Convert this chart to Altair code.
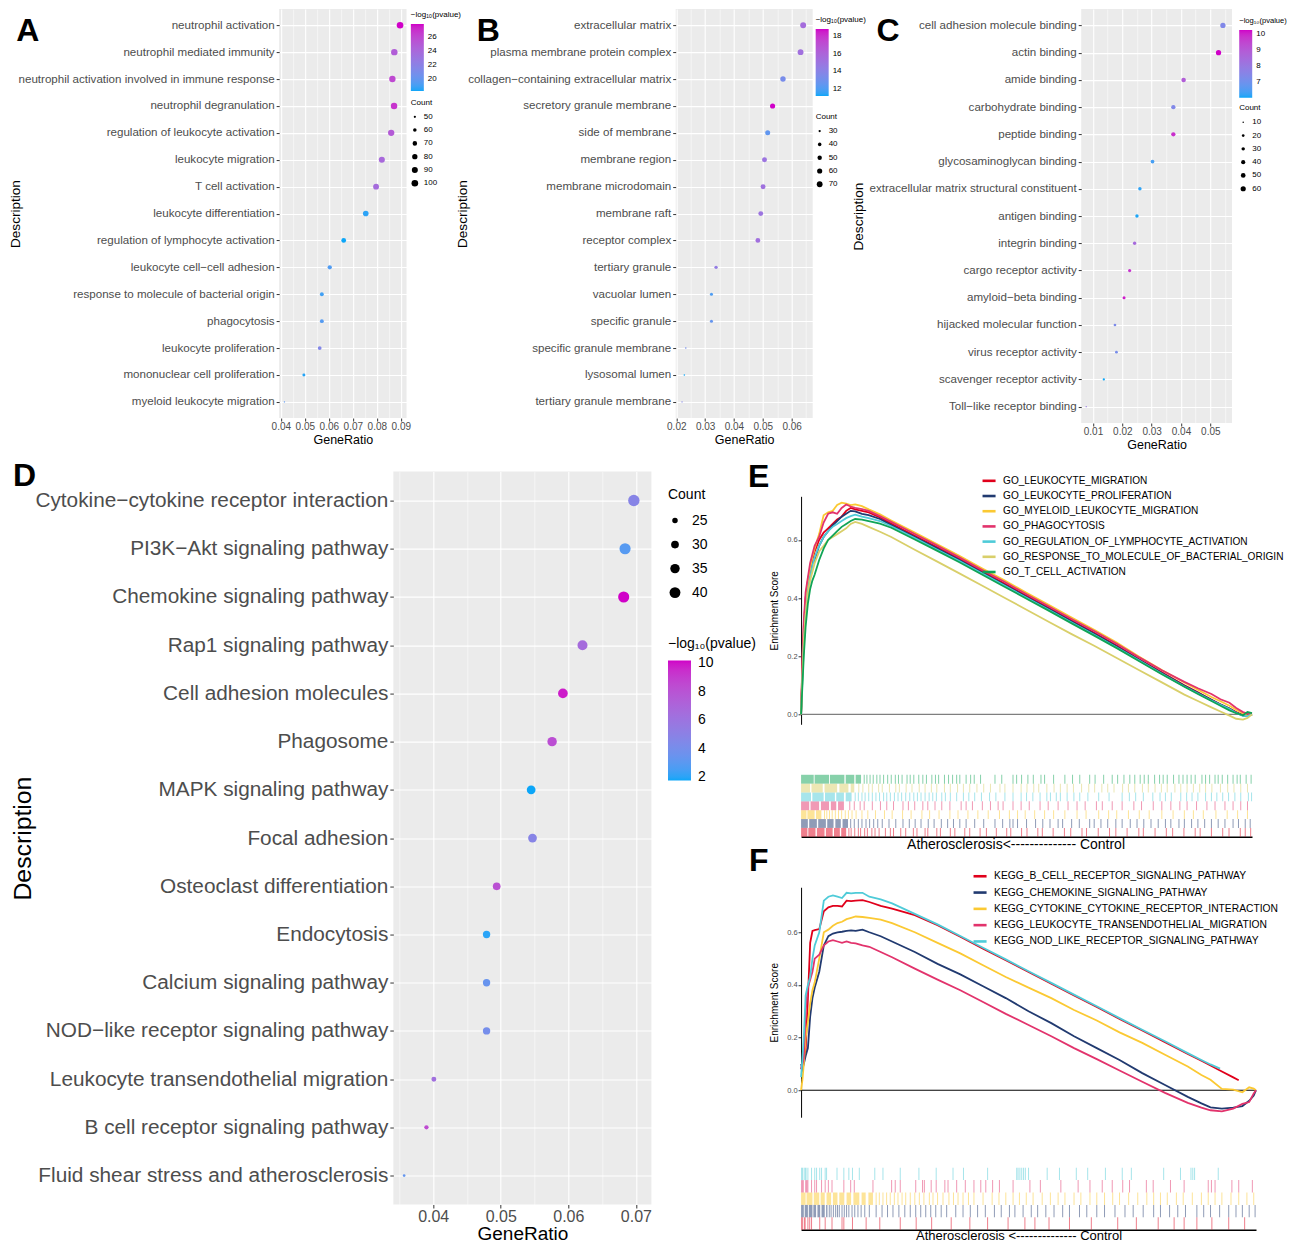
import altair as alt
import pandas as pd

FONT = "Liberation Sans"
LOW, HIGH = "#0CA6F8", "#D000C8"
PANEL = "#EBEBEB"
GREY = "#4D4D4D"
LOGP = "\u2212log\u2081\u2080(pvalue)"

# ---------------- Panel A (GO BP) ----------------
a_terms = ["neutrophil activation", "neutrophil mediated immunity",
           "neutrophil activation involved in immune response", "neutrophil degranulation",
           "regulation of leukocyte activation", "leukocyte migration", "T cell activation",
           "leukocyte differentiation", "regulation of lymphocyte activation",
           "leukocyte cell\u2212cell adhesion", "response to molecule of bacterial origin",
           "phagocytosis", "leukocyte proliferation", "mononuclear cell proliferation",
           "myeloid leukocyte migration"]
a_ratio = [0.0897, 0.0873, 0.0865, 0.0872, 0.0860, 0.0821, 0.0797, 0.0754, 0.0662, 0.0604,
           0.0571, 0.0571, 0.0562, 0.0496, 0.0415]
a_count = [100, 97, 96, 97, 95, 91, 88, 84, 73, 67, 63, 63, 62, 55, 46]
a_logp = [27.9, 24.8, 26.0, 26.9, 25.0, 24.0, 23.8, 18.6, 18.3, 19.4, 19.0, 19.5, 21.5, 18.5, 19.8]
a_xticks = [0.04, 0.05, 0.06, 0.07, 0.08, 0.09]
a_xminor = [0.045, 0.055, 0.065, 0.075, 0.085]
a_cticks = [20, 22, 24, 26]
a_sticks = [50, 60, 70, 80, 90, 100]

# ---------------- Panel B (GO CC) ----------------
b_terms = ["extracellular matrix", "plasma membrane protein complex",
           "collagen\u2212containing extracellular matrix", "secretory granule membrane",
           "side of membrane", "membrane region", "membrane microdomain", "membrane raft",
           "receptor complex", "tertiary granule", "vacuolar lumen", "specific granule",
           "specific granule membrane", "lysosomal lumen", "tertiary granule membrane"]
b_ratio = [0.0640, 0.0631, 0.0570, 0.0534, 0.0517, 0.0506, 0.0501, 0.0493, 0.0483, 0.0338,
           0.0322, 0.0322, 0.0233, 0.0228, 0.0220]
b_count = [72, 71, 64, 60, 58, 57, 57, 56, 55, 38, 36, 36, 26, 26, 25]
b_logp = [15.5, 15.3, 13.3, 18.8, 12.5, 15.0, 15.2, 15.0, 15.3, 14.5, 12.0, 12.6, 13.2, 11.2, 13.8]
b_xticks = [0.02, 0.03, 0.04, 0.05, 0.06]
b_xminor = [0.025, 0.035, 0.045, 0.055, 0.065]
b_cticks = [12, 14, 16, 18]
b_sticks = [30, 40, 50, 60, 70]

# ---------------- Panel C (GO MF) ----------------
c_terms = ["cell adhesion molecule binding", "actin binding", "amide binding",
           "carbohydrate binding", "peptide binding", "glycosaminoglycan binding",
           "extracellular matrix structural constituent", "antigen binding", "integrin binding",
           "cargo receptor activity", "amyloid\u2212beta binding", "hijacked molecular function",
           "virus receptor activity", "scavenger receptor activity", "Toll\u2212like receptor binding"]
c_ratio = [0.0543, 0.0528, 0.0409, 0.0374, 0.0374, 0.0303, 0.0260, 0.0250, 0.0242, 0.0225,
           0.0206, 0.0175, 0.0180, 0.0137, 0.0077]
c_count = [62, 61, 47, 43, 43, 35, 30, 29, 28, 26, 24, 20, 21, 16, 9]
c_logp = [7.4, 10.25, 8.9, 7.4, 9.9, 6.4, 6.2, 6.1, 8.5, 9.8, 10.1, 7.3, 7.2, 6.05, 8.0]
c_xticks = [0.01, 0.02, 0.03, 0.04, 0.05]
c_xminor = [0.015, 0.025, 0.035, 0.045, 0.055]
c_cticks = [7, 8, 9, 10]
c_sticks = [10, 20, 30, 40, 50, 60]

# ---------------- Panel D (KEGG) ----------------
d_terms = ["Cytokine\u2212cytokine receptor interaction", "PI3K\u2212Akt signaling pathway",
           "Chemokine signaling pathway", "Rap1 signaling pathway", "Cell adhesion molecules",
           "Phagosome", "MAPK signaling pathway", "Focal adhesion", "Osteoclast differentiation",
           "Endocytosis", "Calcium signaling pathway", "NOD\u2212like receptor signaling pathway",
           "Leukocyte transendothelial migration", "B cell receptor signaling pathway",
           "Fluid shear stress and atherosclerosis"]
d_ratio = [0.0697, 0.0684, 0.0682, 0.0621, 0.0592, 0.0576, 0.0545, 0.0547, 0.0494, 0.0479,
           0.0479, 0.0479, 0.0401, 0.0390, 0.0357]
d_count = [42, 41, 41, 37, 36, 35, 33, 33, 30, 29, 29, 29, 24, 23, 21]
d_logp = [4.8, 2.9, 10.2, 6.6, 9.9, 8.3, 1.76, 4.8, 8.2, 2.0, 3.4, 4.0, 6.3, 8.5, 3.3]
d_xticks = [0.04, 0.05, 0.06, 0.07]
d_xminor = [0.035, 0.045, 0.055, 0.065]
d_cticks = [2, 4, 6, 8, 10]
d_sticks = [25, 30, 35, 40]

# ---------------- Panel E (GSEA GO) ----------------
e_sets = ["GO_LEUKOCYTE_MIGRATION", "GO_LEUKOCYTE_PROLIFERATION", "GO_MYELOID_LEUKOCYTE_MIGRATION",
          "GO_PHAGOCYTOSIS", "GO_REGULATION_OF_LYMPHOCYTE_ACTIVATION",
          "GO_RESPONSE_TO_MOLECULE_OF_BACTERIAL_ORIGIN", "GO_T_CELL_ACTIVATION"]
e_colors = ["#E0001B", "#213A70", "#FBC933", "#E2336C", "#4FCBD8", "#D9CF6A", "#10A456"]
e_rank = [0, 3, 6, 10, 15, 20, 25, 30, 40, 50, 60, 70, 80, 90, 100, 110, 120, 135, 150, 175, 200,
          250, 300, 350, 400, 450, 500, 550, 600, 650, 700, 750, 800, 850, 880, 910, 930, 950, 965,
          980, 990, 1000]
e_es_migration = [0.0, 0.18, 0.30, 0.40, 0.46, 0.50, 0.53, 0.56, 0.60, 0.625, 0.64, 0.655, 0.67,
                  0.68, 0.70, 0.71, 0.705, 0.70, 0.695, 0.677, 0.656, 0.616, 0.576, 0.536, 0.493,
                  0.451, 0.408, 0.366, 0.323, 0.281, 0.237, 0.19, 0.145, 0.1, 0.076, 0.05, 0.035,
                  0.02, 0.008, -0.002, -0.004, 0.0]
e_es_prolif = [0.0, 0.15, 0.27, 0.36, 0.43, 0.48, 0.52, 0.53, 0.58, 0.61, 0.63, 0.65, 0.665, 0.68,
               0.69, 0.70, 0.698, 0.69, 0.685, 0.672, 0.651, 0.612, 0.572, 0.532, 0.489, 0.447,
               0.404, 0.362, 0.319, 0.277, 0.233, 0.187, 0.142, 0.098, 0.074, 0.05, 0.034, 0.02,
               0.006, -0.004, -0.006, 0.0]
e_es_myeloid = [0.0, 0.15, 0.28, 0.38, 0.45, 0.50, 0.54, 0.57, 0.62, 0.685, 0.695, 0.70, 0.72,
                0.728, 0.725, 0.72, 0.722, 0.716, 0.705, 0.688, 0.667, 0.627, 0.587, 0.546, 0.503,
                0.462, 0.418, 0.376, 0.333, 0.291, 0.247, 0.198, 0.153, 0.11, 0.085, 0.06, 0.045,
                0.03, 0.016, 0.004, -0.006, 0.0]
e_es_phago = [0.0, 0.2, 0.32, 0.42, 0.47, 0.52, 0.55, 0.58, 0.61, 0.66, 0.69, 0.695, 0.69, 0.71,
              0.722, 0.715, 0.71, 0.706, 0.70, 0.682, 0.662, 0.622, 0.582, 0.541, 0.498, 0.457,
              0.413, 0.371, 0.328, 0.287, 0.243, 0.196, 0.152, 0.112, 0.09, 0.07, 0.052, 0.04,
              0.022, 0.008, 0.003, 0.0]
e_es_reglym = [0.0, 0.12, 0.24, 0.34, 0.42, 0.47, 0.51, 0.54, 0.58, 0.61, 0.63, 0.645, 0.655,
               0.665, 0.675, 0.682, 0.687, 0.68, 0.675, 0.665, 0.647, 0.608, 0.568, 0.528, 0.486,
               0.444, 0.401, 0.359, 0.316, 0.274, 0.23, 0.185, 0.14, 0.096, 0.072, 0.048, 0.033,
               0.018, 0.005, -0.005, -0.006, 0.0]
e_es_bacterial = [0.0, 0.13, 0.25, 0.34, 0.41, 0.46, 0.49, 0.52, 0.56, 0.58, 0.60, 0.61, 0.62,
                  0.63, 0.64, 0.655, 0.662, 0.655, 0.645, 0.628, 0.61, 0.568, 0.527, 0.486, 0.444,
                  0.402, 0.36, 0.318, 0.276, 0.236, 0.194, 0.152, 0.11, 0.068, 0.046, 0.024, 0.01,
                  -0.004, -0.015, -0.018, -0.012, 0.0]
e_es_tcell = [0.0, 0.10, 0.20, 0.30, 0.38, 0.43, 0.46, 0.48, 0.53, 0.57, 0.60, 0.615, 0.63, 0.645,
              0.655, 0.665, 0.672, 0.67, 0.665, 0.656, 0.642, 0.603, 0.564, 0.524, 0.482, 0.44,
              0.398, 0.356, 0.313, 0.271, 0.228, 0.183, 0.138, 0.095, 0.07, 0.046, 0.03, 0.014,
              0.004, -0.003, 0.008, 0.004]
e_rug_starts = {
    "GO_LEUKOCYTE_MIGRATION": [0, 16, 35, 55, 73, 89],
    "GO_LEUKOCYTE_PROLIFERATION": [0, 18, 38, 58, 76, 92],
    "GO_MYELOID_LEUKOCYTE_MIGRATION": [0, 14, 33],
    "GO_PHAGOCYTOSIS": [0, 21, 44, 66, 82],
    "GO_REGULATION_OF_LYMPHOCYTE_ACTIVATION": [0, 25, 53, 78, 99],
    "GO_RESPONSE_TO_MOLECULE_OF_BACTERIAL_ORIGIN": [0, 23, 52, 85, 110],
    "GO_T_CELL_ACTIVATION": [0, 30, 64, 99, 121],
}
e_rug_ends = {
    "GO_LEUKOCYTE_MIGRATION": [14, 32, 52, 70, 86, 100],
    "GO_LEUKOCYTE_PROLIFERATION": [15, 35, 55, 72, 88, 104],
    "GO_MYELOID_LEUKOCYTE_MIGRATION": [12, 30, 45],
    "GO_PHAGOCYTOSIS": [18, 40, 62, 78, 95],
    "GO_REGULATION_OF_LYMPHOCYTE_ACTIVATION": [22, 50, 75, 95, 112],
    "GO_RESPONSE_TO_MOLECULE_OF_BACTERIAL_ORIGIN": [20, 48, 80, 105, 118],
    "GO_T_CELL_ACTIVATION": [28, 62, 96, 118, 133],
}
e_rug_hits = {
    "GO_LEUKOCYTE_MIGRATION": [106, 111, 119, 127, 132, 141, 147, 157, 164, 173, 187, 198, 205, 221,
                               232, 249, 257, 275, 281, 301, 309, 331, 341, 363, 374, 397, 411, 433,
                               456, 465, 489, 501, 525, 535, 559, 584, 598, 623, 633, 659, 684, 698,
                               723, 749, 759, 785, 810, 824, 849, 874, 885, 910, 935, 949, 974, 985,
                               997],
    "GO_LEUKOCYTE_PROLIFERATION": [110, 118, 127, 135, 144, 152, 161, 170, 180, 195, 210, 226, 240,
                                   253, 266, 282, 295, 311, 325, 338, 352, 366, 385, 405, 430, 447,
                                   463, 470, 480, 500, 520, 536, 552, 570, 580, 600, 617, 640, 650,
                                   665, 680, 698, 712, 730, 745, 760, 776, 792, 808, 820, 838, 850,
                                   866, 880, 895, 910, 925, 940, 958, 970, 985, 996],
    "GO_MYELOID_LEUKOCYTE_MIGRATION": [52, 57, 63, 69, 76, 83, 90, 98, 105, 113, 122, 135, 148, 165,
                                       185, 202, 225, 244, 268, 285, 306, 330, 348, 370, 392, 415,
                                       440, 462, 480, 497, 518, 540, 560, 585, 612, 632, 660, 682,
                                       700, 726, 750, 772, 800, 825, 850, 870, 892, 920, 945, 968,
                                       990],
    "GO_PHAGOCYTOSIS": [108, 118, 131, 140, 158, 176, 190, 205, 226, 238, 252, 270, 281, 297, 312,
                        330, 355, 366, 380, 402, 420, 437, 448, 470, 488, 506, 530, 548, 570, 592,
                        612, 630, 655, 668, 690, 712, 738, 755, 781, 800, 820, 840, 856, 877, 900,
                        918, 940, 958, 975, 990],
    "GO_REGULATION_OF_LYMPHOCYTE_ACTIVATION": [120, 127, 135, 142, 150, 158, 166, 174, 183, 190, 198,
                                               207, 215, 223, 232, 241, 250, 258, 266, 275, 284, 292,
                                               300, 312, 320, 331, 345, 360, 372, 385, 400, 418, 432,
                                               452, 470, 488, 500, 514, 530, 545, 553, 566, 575, 590,
                                               605, 618, 636, 660, 683, 712, 728, 742, 759, 780, 796,
                                               808, 821, 842, 855, 867, 880, 897, 910, 922, 935, 948,
                                               962, 975, 992, 999],
    "GO_RESPONSE_TO_MOLECULE_OF_BACTERIAL_ORIGIN": [128, 137, 150, 158, 172, 180, 196, 210, 218, 233,
                                                    246, 262, 275, 289, 301, 318, 331, 347, 360, 374,
                                                    390, 405, 420, 441, 452, 470, 488, 501, 516, 527,
                                                    545, 561, 575, 590, 604, 622, 638, 651, 667, 680,
                                                    694, 713, 726, 740, 757, 770, 785, 799, 812, 829,
                                                    842, 856, 870, 884, 897, 911, 930, 946, 960, 975,
                                                    990],
    "GO_T_CELL_ACTIVATION": [140, 146, 153, 160, 168, 175, 183, 192, 200, 209, 216, 224, 235, 242,
                             250, 261, 270, 278, 290, 298, 305, 318, 327, 336, 345, 352, 366, 376,
                             384, 398, 430, 445, 470, 478, 489, 503, 515, 532, 540, 560, 585, 602,
                             618, 640, 652, 671, 690, 702, 716, 729, 740, 752, 761, 770, 784, 795,
                             803, 812, 826, 838, 847, 856, 865, 874, 889, 897, 906, 918, 925, 934,
                             946, 958, 967, 974, 987, 998],
}

# ---------------- Panel F (GSEA KEGG) ----------------
f_sets = ["KEGG_B_CELL_RECEPTOR_SIGNALING_PATHWAY", "KEGG_CHEMOKINE_SIGNALING_PATHWAY",
          "KEGG_CYTOKINE_CYTOKINE_RECEPTOR_INTERACTION", "KEGG_LEUKOCYTE_TRANSENDOTHELIAL_MIGRATION",
          "KEGG_NOD_LIKE_RECEPTOR_SIGNALING_PATHWAY"]
f_colors = ["#E0001B", "#213A70", "#FBC933", "#E2336C", "#4FCBD8"]
f_rank = [0, 3, 6, 10, 15, 20, 25, 30, 40, 50, 60, 70, 80, 90, 100, 110, 120, 135, 150, 175, 200,
          250, 300, 350, 400, 450, 500, 550, 600, 650, 700, 750, 800, 850, 880, 900, 925, 950, 970,
          985, 995, 1000]
f_rank_bcell = [0, 3, 6, 10, 15, 20, 25, 30, 40, 50, 60, 70, 80, 90, 100, 110, 120, 135, 150, 175,
                200, 250, 300, 350, 400, 450, 500, 550, 600, 650, 700, 750, 800, 850, 880, 900, 925,
                950, 962]
f_es_bcell = [0.08, 0.10, 0.12, 0.15, 0.35, 0.56, 0.605, 0.608, 0.612, 0.68, 0.695, 0.70, 0.70,
              0.698, 0.72, 0.718, 0.72, 0.722, 0.715, 0.70, 0.69, 0.665, 0.627, 0.583, 0.538, 0.494,
              0.449, 0.405, 0.36, 0.316, 0.271, 0.227, 0.182, 0.138, 0.112, 0.094, 0.071, 0.049,
              0.038]
f_es_chemokine = [0.1, 0.08, 0.1, 0.13, 0.16, 0.28, 0.35, 0.39, 0.45, 0.55, 0.585, 0.595, 0.60,
                  0.602, 0.605, 0.607, 0.605, 0.61, 0.60, 0.585, 0.565, 0.525, 0.48, 0.44, 0.395,
                  0.35, 0.30, 0.255, 0.205, 0.16, 0.115, 0.065, 0.02, -0.025, -0.05, -0.065, -0.07,
                  -0.066, -0.06, -0.04, -0.02, 0.0]
f_es_cytokine = [0.0, 0.04, 0.10, 0.20, 0.26, 0.33, 0.38, 0.41, 0.50, 0.60, 0.61, 0.625, 0.635,
                 0.64, 0.65, 0.655, 0.66, 0.658, 0.655, 0.648, 0.635, 0.60, 0.56, 0.52, 0.475, 0.43,
                 0.39, 0.35, 0.305, 0.265, 0.22, 0.18, 0.135, 0.09, 0.058, 0.04, 0.005, 0.002,
                 -0.008, 0.011, 0.006, 0.0]
f_es_leuko = [0.08, 0.10, 0.12, 0.30, 0.39, 0.42, 0.45, 0.50, 0.515, 0.55, 0.565, 0.57, 0.565,
              0.56, 0.565, 0.56, 0.558, 0.55, 0.545, 0.525, 0.505, 0.462, 0.42, 0.38, 0.335, 0.29,
              0.248, 0.205, 0.16, 0.118, 0.075, 0.032, -0.01, -0.048, -0.066, -0.076, -0.08, -0.07,
              -0.052, -0.045, -0.012, 0.0]
f_rank_nod = [0, 3, 6, 10, 15, 20, 25, 30, 40, 50, 60, 70, 80, 90, 100, 110, 120, 135, 150, 175,
              200, 250, 300, 350, 400, 450, 500, 550, 600, 650, 700, 750, 800, 850, 880, 900, 921]
f_es_nod = [0.05, 0.12, 0.2, 0.36, 0.40, 0.43, 0.50, 0.55, 0.60, 0.72, 0.735, 0.74, 0.735, 0.73,
            0.75, 0.748, 0.75, 0.75, 0.735, 0.725, 0.71, 0.67, 0.63, 0.586, 0.541, 0.497, 0.452,
            0.408, 0.363, 0.319, 0.274, 0.23, 0.186, 0.141, 0.115, 0.098, 0.082]
f_rug_starts = {
    "KEGG_B_CELL_RECEPTOR_SIGNALING_PATHWAY": [0, 6],
    "KEGG_CHEMOKINE_SIGNALING_PATHWAY": [0, 8, 17, 27, 36, 45, 55],
    "KEGG_CYTOKINE_CYTOKINE_RECEPTOR_INTERACTION": [0, 12, 28, 43, 56, 70, 84, 100, 115, 133, 148],
    "KEGG_LEUKOCYTE_TRANSENDOTHELIAL_MIGRATION": [0, 9],
    "KEGG_NOD_LIKE_RECEPTOR_SIGNALING_PATHWAY": [0, 7],
}
f_rug_ends = {
    "KEGG_B_CELL_RECEPTOR_SIGNALING_PATHWAY": [4, 10],
    "KEGG_CHEMOKINE_SIGNALING_PATHWAY": [6, 15, 25, 33, 42, 52, 58],
    "KEGG_CYTOKINE_CYTOKINE_RECEPTOR_INTERACTION": [10, 25, 40, 52, 66, 80, 95, 110, 128, 142, 158],
    "KEGG_LEUKOCYTE_TRANSENDOTHELIAL_MIGRATION": [6, 14],
    "KEGG_NOD_LIKE_RECEPTOR_SIGNALING_PATHWAY": [5, 12],
}
f_rug_hits = {
    "KEGG_B_CELL_RECEPTOR_SIGNALING_PATHWAY": [15, 19, 23, 41, 53, 68, 90, 94, 113, 143, 173, 218,
                                               253, 287, 330, 371, 410, 455, 492, 514, 545, 590,
                                               638, 696, 737, 785, 820, 842, 870, 903, 940, 975],
    "KEGG_CHEMOKINE_SIGNALING_PATHWAY": [62, 66, 71, 76, 80, 84, 90, 95, 100, 105, 112, 118, 125,
                                         132, 140, 150, 165, 178, 190, 202, 215, 228, 240, 252, 263,
                                         274, 285, 296, 308, 320, 340, 356, 372, 388, 405, 425, 440,
                                         458, 470, 488, 506, 520, 538, 556, 575, 590, 612, 628, 650,
                                         667, 690, 712, 730, 752, 775, 790, 810, 828, 845, 870, 885,
                                         900, 920, 940, 956, 970, 985, 998],
    "KEGG_CYTOKINE_CYTOKINE_RECEPTOR_INTERACTION": [165, 172, 180, 188, 196, 205, 213, 222, 230, 240,
                                                    250, 260, 270, 282, 290, 300, 312, 325, 335,
                                                    345, 356, 368, 380, 400, 420, 435, 450, 466,
                                                    480, 495, 510, 530, 548, 565, 580, 600, 615,
                                                    635, 650, 667, 685, 700, 720, 740, 760, 775,
                                                    790, 805, 825, 840, 860, 880, 895, 910, 925,
                                                    945, 962, 980, 995],
    "KEGG_LEUKOCYTE_TRANSENDOTHELIAL_MIGRATION": [15, 23, 30, 34, 45, 53, 60, 68, 94, 109, 117, 158,
                                                  199, 207, 218, 252, 267, 271, 286, 297, 316, 323,
                                                  342, 361, 380, 395, 406, 421, 436, 466, 503, 526,
                                                  571, 609, 635, 662, 684, 707, 722, 759, 774, 812,
                                                  842, 895, 902, 910, 947, 962, 992],
    "KEGG_NOD_LIKE_RECEPTOR_SIGNALING_PATHWAY": [15, 23, 30, 34, 41, 45, 53, 56, 79, 94, 105, 113,
                                                 128, 162, 180, 218, 259, 297, 334, 357, 410, 474,
                                                 477, 481, 485, 489, 493, 500, 541, 568, 605, 630,
                                                 669, 706, 726, 797, 834, 857, 861, 865, 917],
}


def letter(ch, x, y):
    return alt.Chart(pd.DataFrame({"t": [ch]})).mark_text(
        font=FONT, fontSize=32, fontWeight="bold", align="left", baseline="top", color="black"
    ).encode(text="t:N", x=alt.value(x), y=alt.value(y))


def spacer():
    # invisible 1x1 layout anchor used only to offset concatenated blocks
    return alt.Chart(pd.DataFrame({"v": [0]})).mark_rule(opacity=0).encode(
        x=alt.value(0), x2=alt.value(1), y=alt.value(0), y2=alt.value(0)
    ).properties(width=1, height=1)


def dot_panel(terms, ratio, count, logp, c):
    df = pd.DataFrame({"Description": terms, "GeneRatio": ratio, "Count": count, "logp": logp})
    xscale = alt.Scale(domain=c["xdom"], nice=False, zero=False)
    minor = alt.Chart(df).mark_circle(opacity=0).encode(
        x=alt.X("GeneRatio:Q", scale=xscale,
                axis=alt.Axis(orient="top", values=c["minor"], grid=True, gridColor="white",
                              gridWidth=0.55, labels=False, ticks=False, domain=False, title=None))
    )
    pts = alt.Chart(df).mark_circle(opacity=1).encode(
        x=alt.X("GeneRatio:Q", scale=xscale,
                axis=alt.Axis(orient="bottom", values=c["xticks"], format=".2f", grid=True,
                              gridColor="white", gridWidth=1.1, domain=False, tickColor="#333333",
                              tickSize=c["ts"], tickWidth=1, labelFontSize=c["xl"], labelColor=GREY,
                              labelPadding=c["xlp"], labelFlush=False, labelOverlap=False,
                              title="GeneRatio", titleFontSize=c["xt"], titleFontWeight="normal",
                              titleColor="black", titlePadding=c["xtp"])),
        y=alt.Y("Description:N", sort=terms, scale=alt.Scale(type="point", padding=0.6),
                axis=alt.Axis(title="Description", grid=True, gridColor="white", gridWidth=1.1,
                              domain=False, tickColor="#333333", tickSize=c["ts"], tickWidth=1,
                              labelFontSize=c["yl"], labelColor=GREY, labelPadding=c["ylp"],
                              labelLimit=1000, titleFontSize=c["yt"], titleFontWeight="normal",
                              titleColor="black", titleX=c["tx"])),
        color=alt.Color("logp:Q",
                        scale=alt.Scale(domain=c["cdom"], range=[LOW, HIGH], interpolate="lab"),
                        legend=alt.Legend(orient="none", legendX=c["lx"], legendY=c["cly"],
                                          title=LOGP, titleFontSize=c["ctf"],
                                          titleFontWeight="normal", titleColor="black",
                                          titlePadding=c["ctp"], labelFontSize=c["ll"],
                                          labelColor="black", gradientLength=c["gl"],
                                          gradientThickness=c["gt"], gradientStrokeWidth=0,
                                          values=c["cvals"], direction="vertical",
                                          labelOffset=c["lo"])),
        size=alt.Size("Count:Q", scale=alt.Scale(domain=c["sdom"], range=c["srange"], zero=False),
                      legend=alt.Legend(orient="none", legendX=c["lx"], legendY=c["sly"],
                                        title="Count", titleFontSize=c["lt"],
                                        titleFontWeight="normal", titleColor="black",
                                        titlePadding=c["stp"], labelFontSize=c["ll"],
                                        labelColor="black", values=c["svals"],
                                        symbolFillColor="black", symbolStrokeWidth=0,
                                        symbolOpacity=1, symbolType="circle",
                                        rowPadding=c["rp"], labelOffset=c["slo"],
                                        direction="vertical")),
    )
    lay = alt.layer(minor, pts, letter(c["letter"], c["lx0"], c["ly0"]))
    return lay.resolve_axis(x="independent").properties(
        width=c["w"], height=c["h"], view=alt.ViewBackground(fill=PANEL, strokeWidth=0))


small = dict(ts=3, xl=10, xlp=0, xt=12.5, xtp=2, yl=11.6, ylp=2, yt=13.6, lt=8, ctf=8, ll=8,
             gl=67, gt=13, lo=4, rp=5.3, slo=5)

A = dot_panel(a_terms, a_ratio, a_count, a_logp, dict(
    small, xdom=[0.0393, 0.0924], minor=a_xminor, xticks=a_xticks, tx=-256.2,
    cdom=[18.3, 27.9], cvals=a_cticks, sdom=[46, 100], srange=[1.8, 44], svals=a_sticks,
    lx=131.7, cly=2, ctp=5, sly=90, stp=5.7, letter="A", lx0=-263, ly0=6.6, w=127.4, h=409))
B = dot_panel(b_terms, b_ratio, b_count, b_logp, dict(
    small, xdom=[0.0198, 0.0673], minor=b_xminor, xticks=b_xticks, tx=-206.2,
    cdom=[11.2, 18.8], cvals=b_cticks, sdom=[25, 72], srange=[1.8, 35], svals=b_sticks,
    lx=140, cly=6.7, ctp=5.3, sly=103.7, stp=6.3, letter="B", lx0=-199, ly0=6.6, w=137, h=409))
C = dot_panel(c_terms, c_ratio, c_count, c_logp, dict(
    small, xdom=[0.0060, 0.0574], minor=c_xminor, xticks=c_xticks, tx=-215.4, ctf=7.6,
    cdom=[6.05, 10.25], cvals=c_cticks, sdom=[9, 62], srange=[1.8, 28], svals=c_sticks,
    lx=158, cly=8, ctp=5.4, sly=95, stp=6.2, gl=67.6, letter="C", lx0=-204.7, ly0=6.6,
    w=150.8, h=414))
D = dot_panel(d_terms, d_ratio, d_count, d_logp, dict(
    ts=3.5, xl=16, xlp=0, xt=19, xtp=0, yl=20.8, ylp=2, yt=24.8, tx=-358.3, lt=14, ctf=14, ll=14,
    xdom=[0.0341, 0.0723], minor=d_xminor, xticks=d_xticks, gl=120, gt=23, lo=7, rp=10, slo=10,
    cdom=[1.76, 10.2], cvals=d_cticks, sdom=[21, 42], srange=[7, 130], svals=d_sticks,
    lx=274.7, cly=165, ctp=10, sly=16, stp=12, letter="D", lx0=-380.3, ly0=-10.3,
    w=258.1, h=733))


def curve_df(names, ranks, values):
    rows = []
    for n, r, v in zip(names, ranks, values):
        for rr, vv in zip(r, v):
            rows.append({"set": n, "rank": rr, "es": vv})
    return pd.DataFrame(rows)


def rug_dfs(starts, ends, hits):
    blocks, ticks = [], []
    for n in starts:
        for s, e in zip(starts[n], ends[n]):
            blocks.append({"set": n, "rank": s, "rank_end": e})
        for h in hits[n]:
            ticks.append({"set": n, "rank": h})
    return pd.DataFrame(blocks), pd.DataFrame(ticks)


def gsea_curve(df, names, colors, ydom, zero_color, zero_w, lx, ly, rowpad, lfs, ch, chx, chy,
               w, h):
    xs = alt.Scale(domain=[0, 1000], nice=False, zero=False)
    ys = alt.Scale(domain=ydom, nice=False, zero=False)
    yaxis = alt.Axis(values=[0, 0.2, 0.4, 0.6], format=".1f", title="Enrichment Score",
                     titleFontSize=10, titleFontWeight="normal", titleColor="black", titleX=-21.6,
                     labelFontSize=7.5, labelColor=GREY, labelPadding=1, tickSize=3,
                     tickColor="#333333", domainColor="black", domainWidth=1, grid=False,
                     labelFlush=False)
    zero = alt.Chart(pd.DataFrame({"es": [0.0]})).mark_rule(
        color=zero_color, strokeWidth=zero_w).encode(y=alt.Y("es:Q", scale=ys, axis=yaxis))
    lines = alt.Chart(df).mark_line(strokeWidth=1.8).encode(
        x=alt.X("rank:Q", scale=xs, axis=None),
        y=alt.Y("es:Q", scale=ys, axis=yaxis),
        color=alt.Color("set:N", scale=alt.Scale(domain=names, range=colors),
                        legend=alt.Legend(orient="none", legendX=lx, legendY=ly, title=None,
                                          symbolType="stroke", symbolStrokeWidth=2.6,
                                          symbolSize=170, labelFontSize=lfs, labelColor="black",
                                          rowPadding=rowpad, labelOffset=6, labelLimit=600)),
    )
    return alt.layer(zero, lines, letter(ch, chx, chy)).properties(width=w, height=h)


def gsea_rug(blocks, ticks, names, colors, title, title_x, tsize, tpad, w, h):
    rows = list(reversed(names))
    xs = alt.Scale(domain=[0, 1000], nice=False, zero=False)
    xaxis = alt.Axis(orient="bottom", ticks=False, labels=False, grid=False, domainColor="black",
                     domainWidth=1.6, title=title, titleFontSize=tsize, titleFontWeight="normal",
                     titleColor="black", titlePadding=tpad, titleX=title_x)
    yenc = alt.Y("set:N", sort=rows, scale=alt.Scale(paddingInner=0, paddingOuter=0), axis=None)
    cenc = alt.Color("set:N", scale=alt.Scale(domain=names, range=colors), legend=None)
    rect = alt.Chart(blocks).mark_rect(opacity=0.5).encode(
        x=alt.X("rank:Q", scale=xs, axis=xaxis), x2="rank_end:Q", y=yenc, color=cenc)
    tk = alt.Chart(ticks).mark_tick(thickness=1, size=h / len(names), opacity=0.5).encode(
        x=alt.X("rank:Q", scale=xs, axis=xaxis), y=yenc, color=cenc)
    return alt.layer(rect, tk).properties(width=w, height=h)


e_df = curve_df(e_sets, [e_rank] * 7,
                [e_es_migration, e_es_prolif, e_es_myeloid, e_es_phago, e_es_reglym,
                 e_es_bacterial, e_es_tcell])
f_df = curve_df(f_sets, [f_rank_bcell, f_rank, f_rank, f_rank, f_rank_nod],
                [f_es_bcell, f_es_chemokine, f_es_cytokine, f_es_leuko, f_es_nod])
e_blocks, e_ticks = rug_dfs(e_rug_starts, e_rug_ends, e_rug_hits)
f_blocks, f_ticks = rug_dfs(f_rug_starts, f_rug_ends, f_rug_hits)

Ec = gsea_curve(e_df, e_sets, e_colors, [-0.034, 0.75], "#7F7F7F", 1.3, 180, -23.5, 1.2, 10.1,
                "E", -53, -34.4, 451, 228)
Er = gsea_rug(e_blocks, e_ticks, e_sets, e_colors, "Atherosclerosis<-------------- Control",
              214.5, 14, 1, 451, 62)
Fc = gsea_curve(f_df, f_sets, f_colors, [-0.1025, 0.771], "black", 1, 171, -19, 2.3, 10.3,
                "F", -52, -41.7, 455, 230)
Fr = gsea_rug(f_blocks, f_ticks, f_sets, f_colors, "Atherosclerosis <-------------- Control",
              217.5, 13, 0, 455, 62)

IND = dict(color="independent", size="independent", x="independent", y="independent")
row1 = alt.hconcat(A, B, C, spacing=268.6, bounds="flush").resolve_scale(**IND)
inner2 = alt.hconcat(spacer(), D, spacing=-270.8).resolve_scale(**IND)
efinner = alt.vconcat(Ec, Er, Fc, Fr, spacing=50.5, bounds="flush").resolve_scale(**IND)
efcol = alt.vconcat(spacer(), efinner, spacing=-12.3).resolve_scale(**IND)
row2 = alt.hconcat(inner2, efcol, spacing=-8).resolve_scale(**IND)
chart = alt.vconcat(row1, row2, spacing=8.6).resolve_scale(**IND).properties(
    padding={"left": 0.2, "top": 1, "right": 0, "bottom": 0}
).configure(font=FONT).configure_view(strokeWidth=0)

chart.save("out.html", embed_options={"renderer": "svg", "actions": False})
